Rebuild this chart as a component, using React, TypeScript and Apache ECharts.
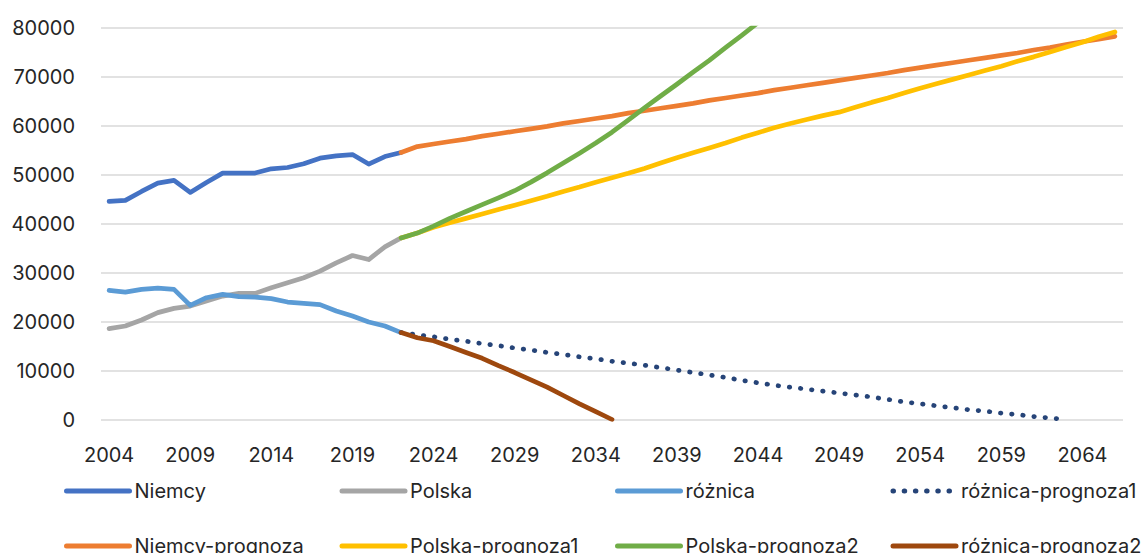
import React, { useEffect, useRef } from "react";
import * as echarts from "echarts";

const years = [
  "2004","2005","2006","2007","2008","2009","2010","2011","2012","2013",
  "2014","2015","2016","2017","2018","2019","2020","2021","2022","2023",
  "2024","2025","2026","2027","2028","2029","2030","2031","2032","2033",
  "2034","2035","2036","2037","2038","2039","2040","2041","2042","2043",
  "2044","2045","2046","2047","2048","2049","2050","2051","2052","2053",
  "2054","2055","2056","2057","2058","2059","2060","2061","2062","2063",
  "2064","2065","2066",
];

// historical 2004–2022
const niemcy = [44570, 44770, 46600, 48300, 48850, 46400, 48440, 50350, 50350, 50350, 51230, 51500, 52250, 53400, 53880, 54140, 52190, 53740, 54550];
const polska = [18580, 19110, 20330, 21840, 22710, 23180, 24200, 25220, 25770, 25770, 26930, 27950, 28970, 30310, 32020, 33510, 32690, 35280, 37110];
const roznica = [26380, 26030, 26580, 26850, 26580, 23320, 24890, 25560, 25100, 25010, 24690, 24000, 23730, 23470, 22160, 21140, 19920, 19110, 17760];

// forecasts 2022–2066
const roznicaPrognoza1 = [17760, 17300, 16900, 16400, 16000, 15500, 15100, 14600, 14200, 13700, 13300, 12800, 12400, 11900, 11500, 11100, 10600, 10100, 9600, 9100, 8600, 8000, 7500, 7000, 6600, 6200, 5800, 5400, 5000, 4600, 4100, 3600, 3200, 2800, 2400, 2000, 1700, 1300, 1000, 600, 300, 0];
const niemcyPrognoza = [54550, 55770, 56300, 56800, 57300, 57900, 58400, 58900, 59400, 59900, 60500, 61000, 61500, 62000, 62600, 63100, 63600, 64100, 64600, 65200, 65700, 66200, 66700, 67300, 67800, 68300, 68800, 69300, 69800, 70300, 70800, 71400, 71900, 72400, 72900, 73400, 73900, 74400, 74900, 75500, 76000, 76600, 77200, 77700, 78300];
const polskaPrognoza1 = [37110, 38100, 39300, 40200, 41100, 42000, 42900, 43800, 44700, 45600, 46600, 47500, 48500, 49400, 50300, 51300, 52400, 53500, 54500, 55500, 56500, 57600, 58600, 59600, 60500, 61300, 62100, 62800, 63800, 64800, 65700, 66700, 67700, 68600, 69500, 70400, 71300, 72200, 73200, 74100, 75100, 76100, 77100, 78200, 79200];
const polskaPrognoza2 = [37110, 38100, 39500, 41100, 42500, 43900, 45300, 46750, 48500, 50400, 52400, 54430, 56500, 58700, 61200, 63700, 66100, 68500, 71000, 73400, 76000, 78500, 81100, 83700];
const roznicaPrognoza2 = [17760, 16700, 16100, 14900, 13700, 12500, 11000, 9600, 8100, 6600, 4900, 3200, 1600, 0];

const yTicks = { min: 0, max: 80000, interval: 10000 };

const FONT = "Inter, 'Noto Sans', sans-serif";
const TXT = "#262626";

function hist(vals: number[]) {
  return years.map((_, i) => (i < vals.length ? vals[i] : null));
}
function prog(vals: number[]) {
  const start = years.indexOf("2022");
  return years.map((_, i) => (i >= start && i - start < vals.length ? vals[i - start] : null));
}

export default function App() {
  const ref = useRef<HTMLDivElement>(null);
  useEffect(() => {
    if (!ref.current) return;
    const chart = echarts.init(ref.current, undefined, { renderer: "svg" });
    const mk = (name: string, data: any[], color: string, dotted = false) => ({
      name,
      type: "line",
      data,
      symbol: "none",
      smooth: false,
      connectNulls: false,
      clip: true,
      lineStyle: {
        color,
        width: 4.7,
        cap: "round",
        join: "round",
        type: dotted ? [0.5, 10.7] : "solid",
      },
      itemStyle: { color, opacity: 0 },
      emphasis: { disabled: true },
    });
    const series = [
      mk("Niemcy", hist(niemcy), "#4472C4"),
      mk("Polska", hist(polska), "#A5A5A5"),
      mk("różnica", hist(roznica), "#5B9BD5"),
      mk("różnica-prognoza1", prog(roznicaPrognoza1), "#264478", true),
      mk("Niemcy-prognoza", prog(niemcyPrognoza), "#ED7D31"),
      mk("Polska-prognoza1", prog(polskaPrognoza1), "#FFC000"),
      mk("Polska-prognoza2", prog(polskaPrognoza2), "#70AD47"),
      mk("różnica-prognoza2", prog(roznicaPrognoza2), "#9E480E"),
    ];
    const cols = [64, 339.5, 615, 890.5];
    const rows = [481, 536];
    const legends = series.map((s, i) => ({
      data: [s.name],
      left: cols[i % 4],
      top: rows[Math.floor(i / 4)],
      orient: "horizontal",
      padding: 0,
      itemWidth: 63,
      itemHeight: 14,
      selectedMode: false,
      itemStyle: { opacity: 0, borderWidth: 0 },
      lineStyle: { width: 5, cap: "round" },
      textStyle: { fontFamily: FONT, fontSize: 20, color: TXT },
    }));
    chart.setOption({
      animation: false,
      backgroundColor: "#ffffff",
      grid: { left: 101, right: 18, top: 28, bottom: 133.5, containLabel: false },
      legend: legends,
      xAxis: {
        type: "category",
        data: years,
        boundaryGap: true,
        axisLine: { show: false },
        axisTick: { show: false },
        splitLine: { show: false },
        axisLabel: {
          interval: 4,
          margin: 25,
          fontFamily: FONT,
          fontSize: 20,
          color: TXT,
        },
      },
      yAxis: {
        type: "value",
        min: yTicks.min,
        max: yTicks.max,
        interval: yTicks.interval,
        axisLine: { show: false },
        axisTick: { show: false },
        splitLine: { lineStyle: { color: "#D9D9D9", width: 1.5 } },
        axisLabel: {
          margin: 26,
          fontFamily: FONT,
          fontSize: 20,
          color: TXT,
          formatter: (v: number) => String(v),
        },
      },
      series,
    });
    return () => chart.dispose();
  }, []);
  return (
    <div
      ref={ref}
      style={{ position: "fixed", left: 0, top: 0, width: 1141, height: 553, background: "#fff" }}
    />
  );
}
